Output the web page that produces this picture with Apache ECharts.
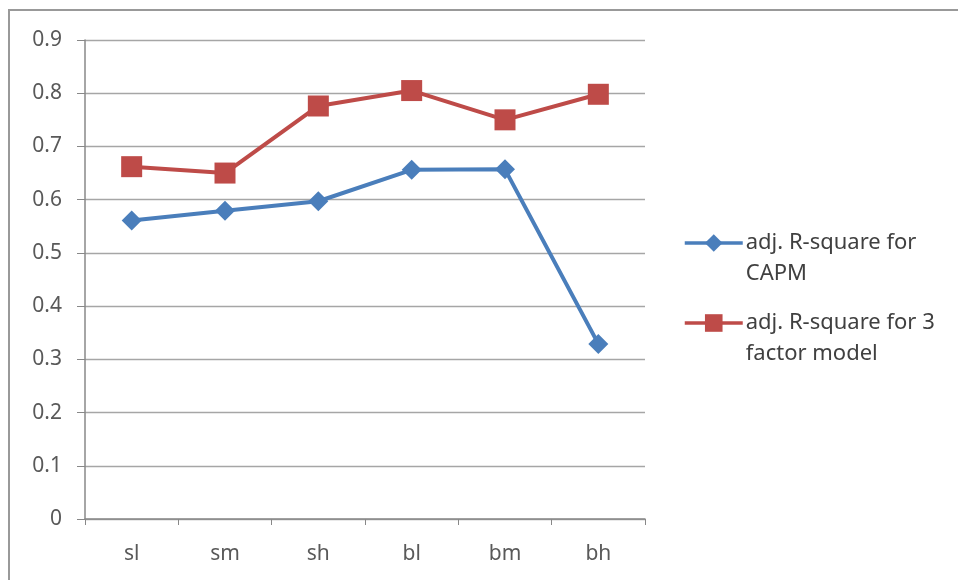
<!DOCTYPE html>
<html><head><meta charset="utf-8">
<script src="https://cdn.jsdelivr.net/npm/echarts@6/dist/echarts.min.js"></script>
<style>html,body{margin:0;padding:0;background:#fff}#c{width:958px;height:580px}</style>
</head><body><div id="c"></div>
<script>
const categories = ['sl','sm','sh','bl','bm','bh'];
const capm = [0.561, 0.579, 0.597, 0.656, 0.657, 0.329];
const threeFactor = [0.662, 0.650, 0.776, 0.805, 0.750, 0.798];
const yTicks = [0,0.1,0.2,0.3,0.4,0.5,0.6,0.7,0.8,0.9];
const seriesNames = ['adj. R-square for\nCAPM','adj. R-square for 3\nfactor model'];

const font = 'Noto Sans, Open Sans, sans-serif';
const legendText = {fontFamily:font,fontSize:22,color:'#404040',lineHeight:31,padding:[0,0,0,-2]};
const legendBase = {orient:'vertical', left:683, padding:0, itemWidth:58, itemHeight:22,
  lineStyle:{width:3.5}, textStyle:legendText, formatter:n=>'\u200b\n'+n};
const chart = echarts.init(document.getElementById('c'));
chart.setOption({
  animation:false,
  backgroundColor:'#fff',
  graphic:[{type:'rect',shape:{x:9,y:10,width:960,height:600},style:{fill:'none',stroke:'#999',lineWidth:2},z:-1}],
  grid:{left:85,right:313,top:40,bottom:61},
  legend:[
    Object.assign({}, legendBase, {top:196.5, data:[seriesNames[0]]}),
    Object.assign({}, legendBase, {top:276.5, data:[seriesNames[1]]})
  ],
  xAxis:{type:'category',data:categories,boundaryGap:true,
    axisLine:{lineStyle:{color:'#888',width:1.5}},
    axisTick:{show:true,length:6,lineStyle:{color:'#888'}},
    axisLabel:{fontFamily:font,fontSize:21,color:'#595959',margin:25}},
  yAxis:{type:'value',min:0,max:0.9,interval:0.1,
    axisLine:{show:true,lineStyle:{color:'#888',width:1.5}},
    axisTick:{show:true,length:8,lineStyle:{color:'#888'}},
    splitLine:{lineStyle:{color:'#a6a6a6',width:1.3}},
    axisLabel:{fontFamily:font,fontSize:21,color:'#595959',margin:23,
      formatter:v=>{const t=yTicks.find(x=>Math.abs(x-v)<1e-9);return t===0?'0':String(t);}}},
  series:[
    {name:seriesNames[0],type:'line',data:capm,symbol:'diamond',symbolSize:20,
     itemStyle:{color:'#4A7EBB'},lineStyle:{color:'#4A7EBB',width:4}},
    {name:seriesNames[1],type:'line',data:threeFactor,symbol:'rect',symbolSize:21,
     itemStyle:{color:'#BE4B48'},lineStyle:{color:'#BE4B48',width:4}}
  ]
});
</script></body></html>
